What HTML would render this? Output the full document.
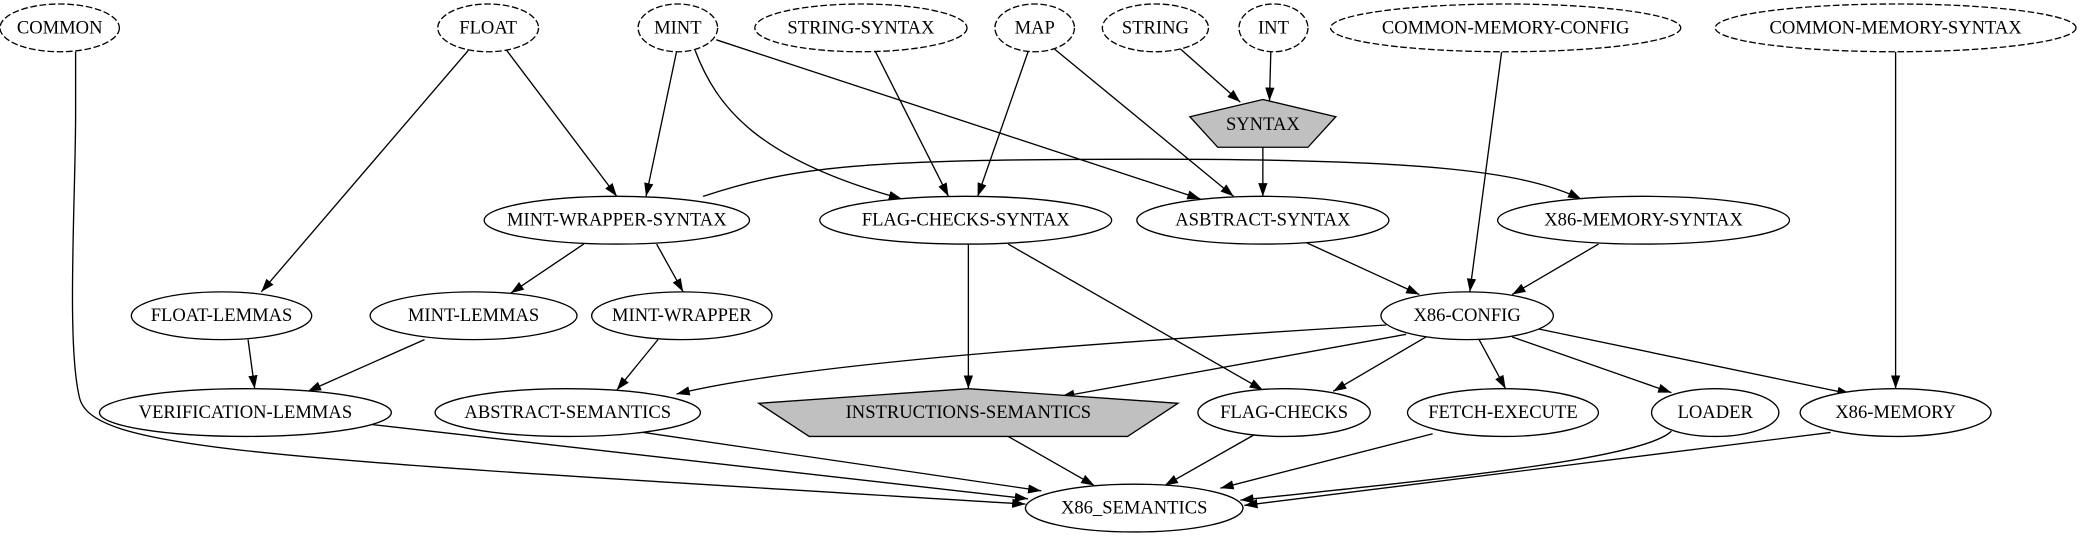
<!DOCTYPE html>
<html><head><meta charset="utf-8"><style>
html,body{margin:0;padding:0;background:#fff;}
svg{display:block;}
text{font-family:"Liberation Serif",serif;font-size:14px;text-anchor:middle;dominant-baseline:central;fill:#000;}
</style></head><body>
<svg width="2080" height="539" viewBox="0 0 1568 406.3" xmlns="http://www.w3.org/2000/svg">
<defs><marker id="a" viewBox="0 0 10 10" refX="10" refY="5" markerWidth="10" markerHeight="10" markerUnits="userSpaceOnUse" orient="auto"><path d="M0,1.5 L10,5 L0,8.5 Z" fill="#000"/></marker></defs>
<g fill="none" stroke="#000" stroke-width="1" marker-end="url(#a)">
<path d="M57,39 L57,85 C57,150 50,260 60,300 C70,340 200,345 773,380"/>
<path d="M353,38 L197,220"/>
<path d="M382,38 L465,148"/>
<path d="M510,39 L487,148"/>
<path d="M524,38 C540,80 570,120 680,150"/>
<path d="M540,30 L905,150"/>
<path d="M660,39 L715,148"/>
<path d="M775,39 L737,148"/>
<path d="M795,37 L930,148"/>
<path d="M890,37 L935,77"/>
<path d="M958,39 L957,76"/>
<path d="M952,111 L952,148"/>
<path d="M1132,39 L1108,220"/>
<path d="M1429,39 L1429,293"/>
<path d="M530,148 C600,125 650,120 870,120 C1080,120 1150,130 1192,150"/>
<path d="M440,184 L385,221"/>
<path d="M495,184 L515,220"/>
<path d="M730,184 L730,293"/>
<path d="M760,184 L952,294"/>
<path d="M985,183 L1070,222"/>
<path d="M1205,184 L1140,222"/>
<path d="M187,256 L192,293"/>
<path d="M320,256 L232,295"/>
<path d="M496,256 L465,294"/>
<path d="M1045,245 C800,260 600,275 510,297"/>
<path d="M1060,252 L800,299"/>
<path d="M1075,254 L1005,295"/>
<path d="M1115,256 L1135,293"/>
<path d="M1140,254 L1260,296"/>
<path d="M1160,248 L1395,297"/>
<path d="M280,320 L775,376"/>
<path d="M485,326 L785,370"/>
<path d="M760,329 L825,366"/>
<path d="M945,328 L878,366"/>
<path d="M1080,327 L920,368"/>
<path d="M1260,325 C1240,345 1100,360 935,377"/>
<path d="M1380,326 L938,381"/>
</g>
<g fill="#fff" stroke="#000" stroke-width="1">
<g stroke-dasharray="5,2">
<ellipse cx="45" cy="21" rx="45" ry="18"/>
<ellipse cx="368" cy="21" rx="38" ry="18"/>
<ellipse cx="511" cy="21" rx="30" ry="18"/>
<ellipse cx="649" cy="21" rx="80" ry="18"/>
<ellipse cx="780" cy="21" rx="30" ry="18"/>
<ellipse cx="871" cy="21" rx="40" ry="18"/>
<ellipse cx="960" cy="21" rx="26" ry="18"/>
<ellipse cx="1135" cy="21" rx="132" ry="18"/>
<ellipse cx="1429" cy="21" rx="136" ry="18"/>
</g>
<polygon points="952,75 1007,88 986,111 918,111 897,88" fill="#c0c0c0"/>
<ellipse cx="465" cy="166" rx="100" ry="18"/>
<ellipse cx="728" cy="166" rx="110" ry="18"/>
<ellipse cx="952" cy="166" rx="95" ry="18"/>
<ellipse cx="1239" cy="166" rx="110" ry="18"/>
<ellipse cx="167" cy="238" rx="68" ry="18"/>
<ellipse cx="357" cy="238" rx="78" ry="18"/>
<ellipse cx="514" cy="238" rx="68" ry="18"/>
<ellipse cx="1106" cy="238" rx="65" ry="18"/>
<ellipse cx="185" cy="311" rx="110" ry="18"/>
<ellipse cx="428" cy="311" rx="100" ry="18"/>
<polygon points="730,293 888,304 850,329 610,329 572,304" fill="#c0c0c0"/>
<ellipse cx="968" cy="311" rx="65" ry="18"/>
<ellipse cx="1133" cy="311" rx="72" ry="18"/>
<ellipse cx="1293" cy="311" rx="48" ry="18"/>
<ellipse cx="1429" cy="311" rx="72" ry="18"/>
<ellipse cx="855" cy="383" rx="82" ry="18"/>
</g>
<g>
<text x="45" y="21">COMMON</text>
<text x="368" y="21">FLOAT</text>
<text x="511" y="21">MINT</text>
<text x="649" y="21">STRING-SYNTAX</text>
<text x="780" y="21">MAP</text>
<text x="871" y="21">STRING</text>
<text x="960" y="21">INT</text>
<text x="1135" y="21">COMMON-MEMORY-CONFIG</text>
<text x="1429" y="21">COMMON-MEMORY-SYNTAX</text>
<text x="952" y="94">SYNTAX</text>
<text x="465" y="166">MINT-WRAPPER-SYNTAX</text>
<text x="728" y="166">FLAG-CHECKS-SYNTAX</text>
<text x="952" y="166">ASBTRACT-SYNTAX</text>
<text x="1239" y="166">X86-MEMORY-SYNTAX</text>
<text x="167" y="238">FLOAT-LEMMAS</text>
<text x="357" y="238">MINT-LEMMAS</text>
<text x="514" y="238">MINT-WRAPPER</text>
<text x="1106" y="238">X86-CONFIG</text>
<text x="185" y="311">VERIFICATION-LEMMAS</text>
<text x="428" y="311">ABSTRACT-SEMANTICS</text>
<text x="730" y="311">INSTRUCTIONS-SEMANTICS</text>
<text x="968" y="311">FLAG-CHECKS</text>
<text x="1133" y="311">FETCH-EXECUTE</text>
<text x="1293" y="311">LOADER</text>
<text x="1429" y="311">X86-MEMORY</text>
<text x="855" y="383">X86_SEMANTICS</text>
</g>
</svg>
</body></html>
